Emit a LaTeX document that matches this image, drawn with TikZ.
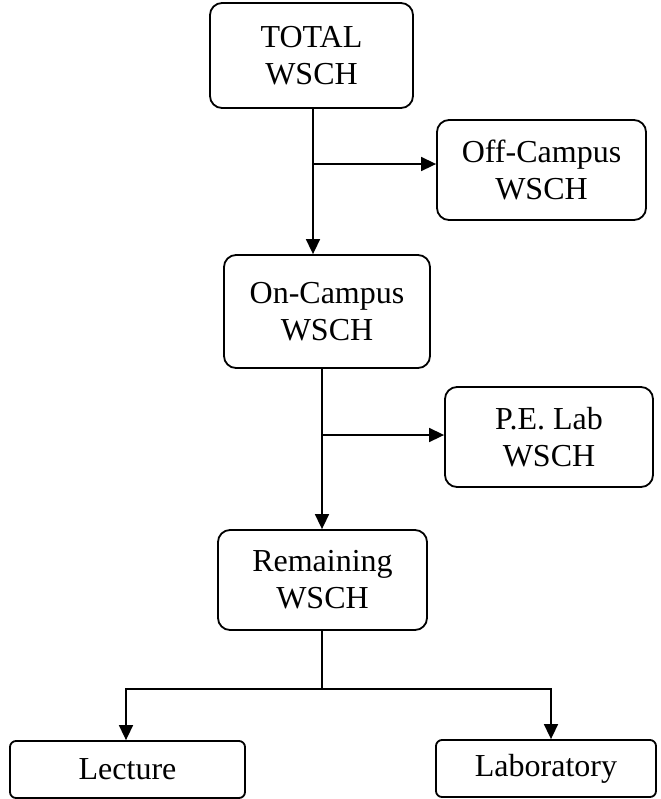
\documentclass[tikz,border=0pt]{standalone}
\usepackage{fontspec}
\setmainfont{Liberation Serif}
\usetikzlibrary{arrows.meta}

\begin{document}
\begin{tikzpicture}[x=0.5pt,y=-0.5pt,
        box/.style={draw,line width=0.9pt,rounded corners=6pt,align=center,inner sep=0pt,
            font=\fontsize{16}{18.5}\selectfont},
        flatbox/.style={box,rounded corners=3pt},
        link/.style={line width=0.8pt},
        arr/.style={link,-{Triangle[length=7.5pt,width=7pt]}}]

                \useasboundingbox (0,0) rectangle (660,799);

                \node[box,minimum width=101.5pt,minimum height=52.5pt] (total) at (311.5,55.5) {TOTAL\\WSCH};
                \node[box,minimum width=104.5pt,minimum height=50pt] (offc) at (541.5,170) {Off-Campus\\WSCH};
                \node[box,minimum width=103pt,minimum height=56.5pt] (onc) at (327,311.5) {On-Campus\\WSCH};
                \node[box,minimum width=104pt,minimum height=50pt] (pelab) at (549,437) {P.E. Lab\\WSCH};
                \node[box,minimum width=104.5pt,minimum height=50pt] (remain) at (322.5,580) {Remaining\\WSCH};
                \node[flatbox,minimum width=117.5pt,minimum height=28.5pt] (lect) at (127.5,769.5) {Lecture};
                \node[flatbox,minimum width=110pt,minimum height=28.5pt] (lab) at (546,768.5) {Laboratory};

                % split points on the trunk
                \coordinate (j1) at (313,164);
                \coordinate (j2) at (322,435);
                \coordinate (j3) at (322,689);

                \draw[arr] (total.south -| j1) -- (j1 |- onc.north);
                \draw[arr] (j1) -- (j1 -| offc.west);
                \draw[arr] (onc.south -| j2) -- (j2 |- remain.north);
                \draw[arr] (j2) -- (j2 -| pelab.west);
                \draw[link] (remain.south -| j3) -- (j3);
                \draw[arr] (j3) -| ([xshift=-0.75pt]lect.north);
                \draw[arr] (j3) -| ([xshift=2.5pt]lab.north);
            \end{tikzpicture}
\end{document}
